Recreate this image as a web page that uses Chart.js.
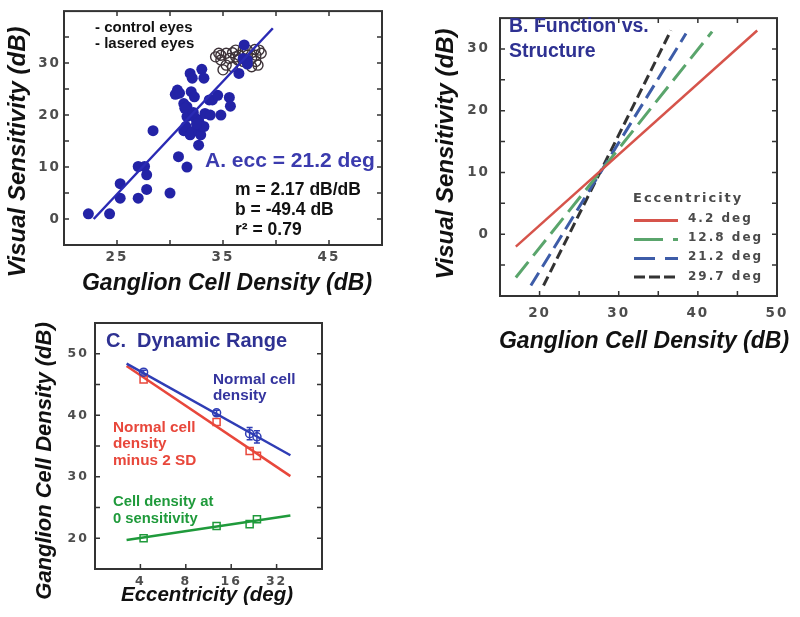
<!DOCTYPE html>
<html><head><meta charset="utf-8">
<script src="https://cdn.jsdelivr.net/npm/chart.js@4.4.1/dist/chart.umd.min.js"></script>
<style>
html,body{margin:0;padding:0;background:#fff;}
#wrap{position:relative;width:800px;height:617px;overflow:hidden;background:#fff;}
canvas{position:absolute;}
</style></head><body>
<div id="wrap">
<canvas id="cA" width="400" height="300" style="left:0;top:0;width:400px;height:300px"></canvas>
<canvas id="cB" width="400" height="360" style="left:400px;top:0;width:400px;height:360px"></canvas>
<canvas id="cC" width="340" height="317" style="left:0;top:300px;width:340px;height:317px"></canvas>
</div>
<script>
// ---------- Panel A data ----------
const laseredX = [22.3,24.3,25.3,25.3,27.0,27.0,27.6,27.8,27.8,28.4,30.0,30.8,31.6,30.5,30.7,30.9,31.3,31.6,31.3,31.5,31.6,31.9,31.9,32.1,32.0,32.3,32.1,32.4,32.7,32.7,32.7,32.9,33.0,33.2,33.0,33.2,33.3,33.7,33.8,34.0,34.5,34.8,35.6,35.7,36.5,37.0,36.9,37.3,37.3,31.4,32.2,32.5];
const laseredY = [1.0,1.0,6.8,4.0,4.0,10.1,10.1,8.5,5.7,17.0,5.0,12.0,10.0,24.0,24.8,24.2,22.2,21.6,17.0,17.8,19.7,16.2,28.0,27.1,24.5,23.5,16.8,19.4,19.0,16.8,14.2,16.2,17.8,17.8,28.8,27.1,20.3,22.9,20.0,22.9,23.8,20.0,23.4,21.7,28.0,33.5,30.9,30.6,29.8,21.3,20.5,18.3];
const controlX = [34.3,34.8,34.6,35.3,35.9,36.2,36.9,37.3,38.0,38.4,38.1,38.6,37.7,36.2,35.6,35.0,35.9,36.4,37.3,38.1,38.3,37.7,36.9,35.3,34.8,36.5];
const controlY = [31.2,30.6,31.9,31.9,32.0,32.5,32.5,32.5,32.6,32.5,31.5,31.9,30.9,31.2,30.9,28.7,29.3,30.6,31.5,30.3,29.6,29.3,30.3,29.6,31.5,31.5];
const fitAX = [22.8, 39.7];
const fitAY = [0.0, 36.7];
const ticksAX = [25,30,35,40,45];
const labelsAX = [25,35,45];
const ticksAY = [0,5,10,15,20,25,30,35];
const labelsAY = [0,10,20,30];

// ---------- Panel B data ----------
const eccLabels = ['4.2 deg','12.8 deg','21.2 deg','29.7 deg'];
const ecc4X = [17.0, 47.5],  ecc4Y = [-2.0, 33.0];
const ecc12X = [17.0, 41.8], ecc12Y = [-7.0, 32.8];
const ecc21X = [18.9, 38.5], ecc21Y = [-8.3, 32.5];
const ecc29X = [20.5, 36.6], ecc29Y = [-8.3, 33.0];
const ticksBX = [20,25,30,35,40,45];
const labelsBX = [20,30,40,50];
const ticksBY = [-5,0,5,10,15,20,25,30];
const labelsBY = [0,10,20,30];

// ---------- Panel C data ----------
const eccC = [4.2, 12.8, 21.2, 23.7];
const normalDensity = [47.0, 40.4, 37.0, 36.5];
const normalErr = [0.3, 0.4, 1.0, 1.0];
const minus2SD = [45.8, 38.9, 34.2, 33.4];
const zeroSens = [20.0, 22.0, 22.3, 23.1];
const fitEccC = [3.24, 39.5];
const fitNormal = [48.4, 33.5];
const fitMinus2SD = [48.0, 30.1];
const fitZero = [19.7, 23.7];
const ticksCX = [4,8,16,32];
const ticksCY = [20,25,30,35,40,45,50];
const labelsCY = [20,30,40,50];

// ---------- helpers ----------
const pts = (xs, ys) => xs.map((x,i)=>({x, y: ys[i]}));
const TF = (s)=>({family:'"DejaVu Sans"', weight:'bold', size:s});
const BLUE_T = '#2e3192';

function framePlugin(cfg){
  return {
    id: 'frame'+cfg.name,
    beforeDraw(chart){ chart.ctx.letterSpacing = cfg.ls; },
    afterDatasetsDraw(chart){
      if (cfg.extra) cfg.extra(chart);
    },
    afterDraw(chart){
      const ctx = chart.ctx, a = chart.chartArea, xs = chart.scales.x, ys = chart.scales.y;
      ctx.save();
      ctx.letterSpacing = '0px';
      ctx.strokeStyle = '#333'; ctx.lineWidth = 2; ctx.setLineDash([]);
      ctx.strokeRect(a.left, a.top, a.right - a.left, a.bottom - a.top);
      ctx.lineWidth = 1.5;
      const L = 5;
      ctx.beginPath();
      cfg.xTicks.forEach(v => {
        const p = xs.getPixelForValue(v);
        ctx.moveTo(p, a.bottom); ctx.lineTo(p, a.bottom - L);
        if (cfg.top) { ctx.moveTo(p, a.top); ctx.lineTo(p, a.top + L); }
      });
      cfg.yTicks.forEach(v => {
        const p = ys.getPixelForValue(v);
        ctx.moveTo(a.left, p); ctx.lineTo(a.left + L, p);
        if (cfg.right) { ctx.moveTo(a.right, p); ctx.lineTo(a.right - L, p); }
      });
      ctx.stroke();
      (cfg.legend || []).forEach(l => {
        ctx.save();
        ctx.strokeStyle = l.c; ctx.lineWidth = 3; ctx.setLineDash(l.d);
        ctx.beginPath(); ctx.moveTo(l.x1, l.y); ctx.lineTo(l.x2, l.y); ctx.stroke();
        ctx.restore();
      });
      (cfg.texts || []).forEach(t => {
        ctx.save();
        ctx.font = t.f; ctx.fillStyle = t.c; ctx.textAlign = t.a || 'left';
        ctx.textBaseline = 'alphabetic'; ctx.letterSpacing = t.ls || '0px';
        ctx.translate(t.x, t.y); if (t.r) ctx.rotate(t.r);
        ctx.fillText(t.s, 0, 0);
        ctx.restore();
      });
      ctx.restore();
    }
  };
}

function axis(min, max, step, labels, size, pad, fit, isX, color){
  return {
    type: 'linear', min, max,
    grid: {display:false, drawTicks:false}, border: {display:false},
    ticks: {stepSize: step, autoSkip:false, maxRotation:0, padding: pad, font: TF(size), color: color || '#4d4d4d',
      callback: v => labels.includes(v) ? String(v) : null},
    afterFit: isX ? (s => { s.height = fit; }) : (s => { s.width = fit; })
  };
}

const base = (pad) => ({
  responsive:false, devicePixelRatio:1, animation:false, events:[],
  layout:{padding:pad},
  plugins:{legend:{display:false}, tooltip:{enabled:false}}
});

const TITLE = 'bold italic 24px "Liberation Sans", Arial, sans-serif';
const TITLEX = 'bold italic 23px "Liberation Sans", Arial, sans-serif';

// ---------- Panel A ----------
new Chart(document.getElementById('cA'), {
  type: 'scatter',
  data: { datasets: [
    { data: pts(fitAX, fitAY), showLine:true, borderColor:'#2a2ab4', borderWidth:2.5, pointRadius:0 },
    { data: pts(laseredX, laseredY), pointRadius:5.5, backgroundColor:'#2323a6', borderWidth:0 },
    { data: pts(controlX, controlY), pointRadius:5, backgroundColor:'rgba(0,0,0,0)', borderColor:'#3d3238', borderWidth:1.4 }
  ]},
  options: Object.assign(base({left:0, right:18, top:11, bottom:0}), {
    scales: {
      x: axis(20, 50, 5, labelsAX, 13.5, 4, 55, true),
      y: axis(-5, 40, 5, labelsAY, 13.5, 3, 64, false)
    }
  }),
  plugins: [framePlugin({name:'A', ls:'2px', xTicks:ticksAX, yTicks:ticksAY, top:true, right:true,
    texts: [
      {s:'Visual Sensitivity (dB)', x:25, y:152, r:-Math.PI/2, a:'center', f:TITLE, c:'#111'},
      {s:'Ganglion Cell Density (dB)', x:227, y:290, a:'center', f:TITLEX, c:'#111'},
      {s:'- control eyes', x:95, y:32, f:'bold 15px "Liberation Sans", Arial', c:'#111'},
      {s:'- lasered eyes', x:95, y:48, f:'bold 15px "Liberation Sans", Arial', c:'#111'},
      {s:'A. ecc = 21.2 deg', x:205, y:167, f:'bold 21px "Liberation Sans", Arial', c:'#3b3bae'},
      {s:'m = 2.17 dB/dB', x:235, y:195, f:'bold 17.5px "Liberation Sans", Arial', c:'#111'},
      {s:'b = -49.4 dB', x:235, y:215, f:'bold 17.5px "Liberation Sans", Arial', c:'#111'},
      {s:'r\u00b2 = 0.79', x:235, y:235, f:'bold 17.5px "Liberation Sans", Arial', c:'#111'}
    ]})]
});

// ---------- Panel B ----------
const RED_B = '#d6544b', GREEN_B = '#5aa56c', BLUE_B = '#3d5ca8', BLACK_B = '#333333';
new Chart(document.getElementById('cB'), {
  type: 'scatter',
  data: { datasets: [
    { data: pts(ecc4X, ecc4Y), showLine:true, borderColor:RED_B, borderWidth:2.5, pointRadius:0 },
    { data: pts(ecc12X, ecc12Y), showLine:true, borderColor:GREEN_B, borderWidth:3, pointRadius:0, borderDash:[20,8] },
    { data: pts(ecc21X, ecc21Y), showLine:true, borderColor:BLUE_B, borderWidth:3, pointRadius:0, borderDash:[15,7] },
    { data: pts(ecc29X, ecc29Y), showLine:true, borderColor:BLACK_B, borderWidth:3, pointRadius:0, borderDash:[10,5] }
  ]},
  options: Object.assign(base({left:0, right:23, top:7, bottom:0}), {
    scales: {
      x: axis(15, 50, 5, labelsBX, 13.5, 9, 64, true),
      y: axis(-10, 35, 5, labelsBY, 13.5, 10, 100, false)
    }
  }),
  plugins: [framePlugin({name:'B', ls:'2px', xTicks:ticksBX, yTicks:ticksBY, top:true, right:true,
    legend: [
      {c:RED_B, d:[], x1:234, x2:278, y:220.5},
      {c:GREEN_B, d:[29,10,5,10], x1:234, x2:278, y:239.5},
      {c:BLUE_B, d:[21,10], x1:234, x2:278, y:258.5},
      {c:BLACK_B, d:[11,4], x1:234, x2:278, y:277}
    ],
    texts: [
      {s:'Visual Sensitivity (dB)', x:53, y:154, r:-Math.PI/2, a:'center', f:TITLE, c:'#111'},
      {s:'Ganglion Cell Density (dB)', x:244, y:348, a:'center', f:TITLEX, c:'#111'},
      {s:'B. Function vs.', x:109, y:32, f:'bold 19.5px "Liberation Sans", Arial', c:BLUE_T},
      {s:'Structure', x:109, y:57, f:'bold 19.5px "Liberation Sans", Arial', c:BLUE_T},
      {s:'Eccentricity', x:233, y:202, f:'bold 13px "DejaVu Sans"', c:'#4a4a4a', ls:'2px'},
      {s:eccLabels[0], x:288, y:222, f:'bold 12px "DejaVu Sans"', c:'#4a4a4a', ls:'2px'},
      {s:eccLabels[1], x:288, y:241, f:'bold 12px "DejaVu Sans"', c:'#4a4a4a', ls:'2px'},
      {s:eccLabels[2], x:288, y:260, f:'bold 12px "DejaVu Sans"', c:'#4a4a4a', ls:'2px'},
      {s:eccLabels[3], x:288, y:279.5, f:'bold 12px "DejaVu Sans"', c:'#4a4a4a', ls:'2px'}
    ]})]
});

// ---------- Panel C ----------
const BLUE_C = '#2f3db5', RED_C = '#e8473b', GREEN_C = '#1f9a3b';
new Chart(document.getElementById('cC'), {
  type: 'scatter',
  data: { datasets: [
    { data: pts(eccC, normalDensity), pointStyle:'circle', pointRadius:4, backgroundColor:'rgba(0,0,0,0)', borderColor:BLUE_C, borderWidth:1.5 },
    { data: pts(eccC, minus2SD), pointStyle:'rect', pointRadius:5, backgroundColor:'rgba(0,0,0,0)', borderColor:RED_C, borderWidth:1.5 },
    { data: pts(eccC, zeroSens), pointStyle:'rect', pointRadius:5, backgroundColor:'rgba(0,0,0,0)', borderColor:GREEN_C, borderWidth:1.5 },
    { data: pts(fitEccC, fitNormal), showLine:true, borderColor:BLUE_C, borderWidth:2.5, pointRadius:0 },
    { data: pts(fitEccC, fitMinus2SD), showLine:true, borderColor:RED_C, borderWidth:2.5, pointRadius:0 },
    { data: pts(fitEccC, fitZero), showLine:true, borderColor:GREEN_C, borderWidth:2.5, pointRadius:0 }
  ]},
  options: Object.assign(base({left:0, right:18, top:23, bottom:0}), {
    scales: {
      x: { type:'logarithmic', min:2, max:64,
        grid:{display:false, drawTicks:false}, border:{display:false},
        afterBuildTicks: s => { s.ticks = ticksCX.map(v => ({value:v})); },
        ticks:{autoSkip:false, maxRotation:0, padding:5, font:TF(12.5), color:'#4d4d4d', callback: v => String(v)},
        afterFit: s => { s.height = 48; } },
      y: axis(15, 55, 5, labelsCY, 12.5, 6, 95, false)
    }
  }),
  plugins: [framePlugin({name:'C', ls:'2px', xTicks:ticksCX, yTicks:ticksCY, top:false, right:true,
    extra: (chart) => {
      const ctx = chart.ctx, xs = chart.scales.x, ys = chart.scales.y;
      ctx.save(); ctx.strokeStyle = BLUE_C; ctx.lineWidth = 1.5; ctx.beginPath();
      eccC.forEach((e, i) => {
        const px = xs.getPixelForValue(e);
        const y1 = ys.getPixelForValue(normalDensity[i] - normalErr[i]);
        const y2 = ys.getPixelForValue(normalDensity[i] + normalErr[i]);
        ctx.moveTo(px, y1); ctx.lineTo(px, y2);
        ctx.moveTo(px - 3, y1); ctx.lineTo(px + 3, y1);
        ctx.moveTo(px - 3, y2); ctx.lineTo(px + 3, y2);
      });
      ctx.stroke(); ctx.restore();
    },
    texts: [
      {s:'Ganglion Cell Density (dB)', x:51, y:161, r:-Math.PI/2, a:'center', f:'bold italic 22px "Liberation Sans", Arial', c:'#111'},
      {s:'Eccentricity (deg)', x:207, y:301, a:'center', f:'bold italic 20.5px "Liberation Sans", Arial', c:'#111'},
      {s:'C.  Dynamic Range', x:106, y:47, f:'bold 20px "Liberation Sans", Arial', c:BLUE_T},
      {s:'Normal cell', x:213, y:84, f:'bold 15.3px "Liberation Sans", Arial', c:'#34349e'},
      {s:'density', x:213, y:99.5, f:'bold 15.3px "Liberation Sans", Arial', c:'#34349e'},
      {s:'Normal cell', x:113, y:131.5, f:'bold 15.3px "Liberation Sans", Arial', c:RED_C},
      {s:'density', x:113, y:148, f:'bold 15.3px "Liberation Sans", Arial', c:RED_C},
      {s:'minus 2 SD', x:113, y:164.5, f:'bold 15.3px "Liberation Sans", Arial', c:RED_C},
      {s:'Cell density at', x:113, y:206, f:'bold 14.8px "Liberation Sans", Arial', c:GREEN_C},
      {s:'0 sensitivity', x:113, y:222.5, f:'bold 14.8px "Liberation Sans", Arial', c:GREEN_C}
    ]})]
});
</script>
</body></html>
